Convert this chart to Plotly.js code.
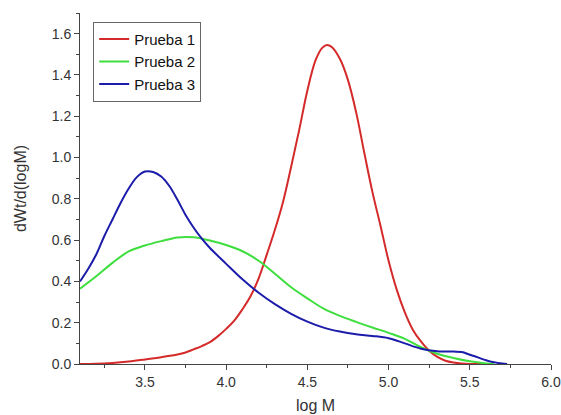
<!DOCTYPE html>
<html>
<head>
<meta charset="utf-8">
<script src="https://cdn.plot.ly/plotly-3.0.1.min.js"></script>
<style>html,body{margin:0;padding:0;background:#fff;}#chart{width:561px;height:415px;}</style>
</head>
<body>
<div id="chart"></div>
<script>
// Prueba 1 (red)
const x1 = [3.10, 3.20, 3.30, 3.40, 3.50, 3.60, 3.70, 3.75, 3.80, 3.85, 3.90, 3.95, 4.00, 4.05, 4.10, 4.15, 4.20, 4.25, 4.30, 4.35, 4.40, 4.45, 4.50, 4.55, 4.59, 4.62, 4.65, 4.70, 4.75, 4.80, 4.85, 4.90, 4.95, 5.00, 5.05, 5.10, 5.15, 5.20, 5.25, 5.30, 5.35, 5.40, 5.45, 5.50, 5.60];
const y1 = [0.000, 0.001, 0.005, 0.012, 0.022, 0.033, 0.046, 0.056, 0.071, 0.087, 0.106, 0.135, 0.170, 0.210, 0.265, 0.328, 0.415, 0.530, 0.650, 0.785, 0.955, 1.135, 1.325, 1.470, 1.530, 1.545, 1.535, 1.478, 1.375, 1.220, 1.025, 0.835, 0.670, 0.500, 0.360, 0.250, 0.165, 0.108, 0.064, 0.034, 0.016, 0.007, 0.002, 0.000, 0.000];
// Prueba 2 (green)
const x2 = [3.10, 3.20, 3.30, 3.40, 3.50, 3.60, 3.70, 3.80, 3.90, 4.00, 4.10, 4.20, 4.30, 4.40, 4.50, 4.60, 4.70, 4.80, 4.90, 5.00, 5.10, 5.20, 5.30, 5.40, 5.50, 5.60, 5.65];
const y2 = [0.365, 0.425, 0.490, 0.545, 0.574, 0.595, 0.613, 0.614, 0.598, 0.576, 0.546, 0.500, 0.437, 0.372, 0.318, 0.268, 0.233, 0.204, 0.177, 0.151, 0.122, 0.081, 0.050, 0.029, 0.013, 0.003, 0.000];
// Prueba 3 (blue)
const x3 = [3.10, 3.15, 3.20, 3.25, 3.30, 3.35, 3.40, 3.45, 3.50, 3.55, 3.60, 3.65, 3.70, 3.75, 3.80, 3.85, 3.90, 4.00, 4.10, 4.20, 4.30, 4.40, 4.50, 4.60, 4.70, 4.80, 4.90, 5.00, 5.10, 5.20, 5.30, 5.40, 5.45, 5.50, 5.55, 5.60, 5.65, 5.70, 5.73];
const y3 = [0.400, 0.460, 0.530, 0.620, 0.700, 0.780, 0.850, 0.905, 0.932, 0.930, 0.908, 0.862, 0.795, 0.722, 0.660, 0.607, 0.562, 0.485, 0.410, 0.345, 0.290, 0.243, 0.205, 0.176, 0.157, 0.144, 0.136, 0.125, 0.100, 0.074, 0.062, 0.060, 0.058, 0.045, 0.032, 0.018, 0.008, 0.002, 0.000];

const names = ["Prueba 1", "Prueba 2", "Prueba 3"];
const colors = ["#d42a2a", "#3ede3e", "#1c1caa"];

const data = [[x1,y1],[x2,y2],[x3,y3]].map((d,i)=>({
  x: d[0], y: d[1], type: "scatter", mode: "lines", name: names[i],
  line: {color: colors[i], width: 2, shape: "spline", smoothing: 1}
}));

const FF = "Liberation Sans, Arial, sans-serif";
const axisFont = {family: FF, size: 14, color: "#333"};
const layout = {
  width: 561, height: 415,
  margin: {l: 80, r: 10, t: 13, b: 51},
  paper_bgcolor: "#fff", plot_bgcolor: "#fff",
  showlegend: true,
  legend: {
    x: 0.028, y: 0.975, xanchor: "left", yanchor: "top",
    bordercolor: "#666", borderwidth: 1, bgcolor: "#fff",
    font: {family: FF, size: 15, color: "#111"},
    tracegroupgap: 0
  },
  xaxis: {
    range: [3.1, 6.0], tickmode: "linear", tick0: 3.5, dtick: 0.5,
    tickformat: ".1f",
    showgrid: false, zeroline: false, showline: true, linecolor: "#444", linewidth: 1,
    ticks: "outside", ticklen: 5, tickcolor: "#444", tickwidth: 1,
    minor: {dtick: 0.25, ticks: "outside", ticklen: 3, tickcolor: "#444", showgrid: false},
    tickfont: axisFont,
    title: {text: "log M", font: {family: FF, size: 16, color: "#333"}, standoff: 11}
  },
  yaxis: {
    range: [0, 1.7], tickmode: "linear", tick0: 0, dtick: 0.2,
    tickformat: ".1f",
    showgrid: false, zeroline: false, showline: true, linecolor: "#444", linewidth: 1,
    ticks: "outside", ticklen: 5, tickcolor: "#444", tickwidth: 1,
    minor: {dtick: 0.1, ticks: "outside", ticklen: 3, tickcolor: "#444", showgrid: false},
    tickfont: axisFont,
    title: {text: "dWt/d(logM)", font: {family: FF, size: 16, color: "#333"}, standoff: 21}
  }
};

Plotly.newPlot("chart", data, layout, {displayModeBar: false, staticPlot: true});
</script>
</body>
</html>
